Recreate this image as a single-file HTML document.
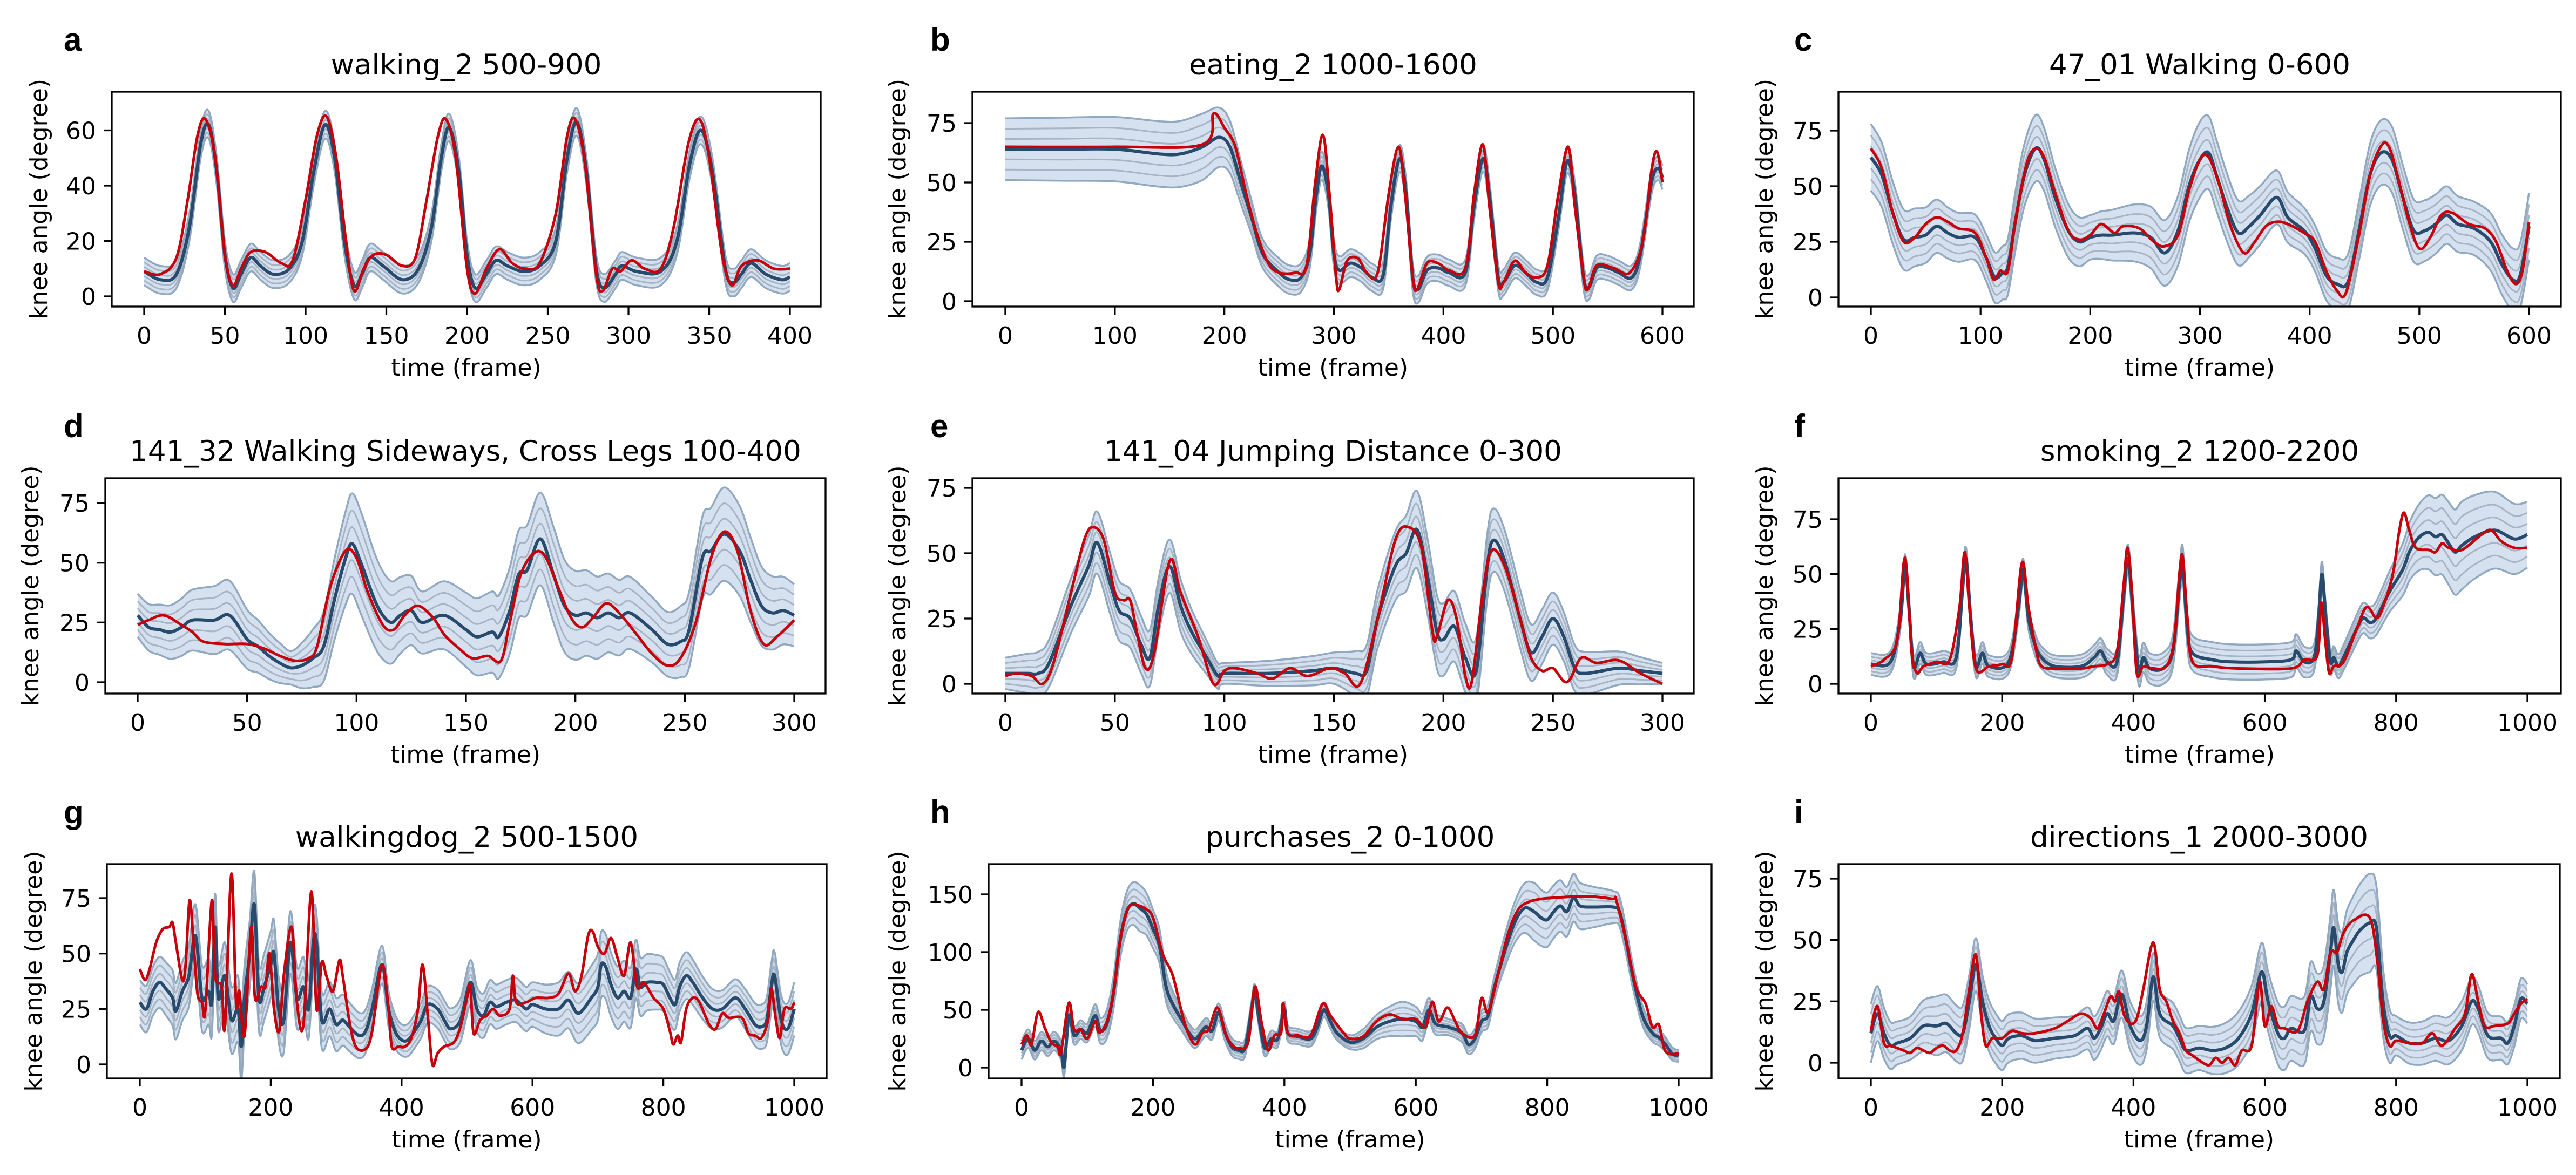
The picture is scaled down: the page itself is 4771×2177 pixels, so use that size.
<!DOCTYPE html>
<html><head><meta charset="utf-8"><style>
html,body{margin:0;padding:0;background:#fff}
svg{display:block}
text{font-family:"DejaVu Sans","Liberation Sans",sans-serif;fill:#000}
.lt{font-family:"Liberation Sans",sans-serif;font-weight:bold}
</style></head><body>
<svg id="fig" xmlns="http://www.w3.org/2000/svg" width="4771" height="2177" viewBox="0 0 4771 2177"></svg>
<script>
// ---- data: [frame, knee angle] ----
const aMean=[[0,9],[10,6],[20,8],[28,25],[35,55],[40,62],[45,45],[50,15],[55,3],[60,8],[66,14],[72,11],[80,8],[90,10],[98,20],[105,45],[112,62],[118,50],[124,20],[130,4],[135,8],[140,14],[148,11],[160,6],[170,10],[178,25],[184,50],[189,61],[195,45],[200,15],[205,3],[212,8],[218,13],[225,11],[235,9],[245,11],[255,20],[262,50],[268,63],[274,45],[280,10],[285,3],[292,8],[296,11],[305,9],[320,9],[330,20],[338,48],[345,60],[352,45],[360,10],[365,5],[370,8],[376,12],[385,8],[395,6],[400,7]];
const aRed=[[0,9],[10,8],[20,14],[27,35],[33,58],[38,64],[44,50],[50,15],[55,4],[60,10],[66,16],[75,16],[85,12],[92,13],[100,35],[107,58],[113,65],[119,50],[125,20],[130,2],[136,10],[142,15],[150,15],[160,11],[168,14],[175,35],[182,58],[187,64],[193,50],[200,10],[205,1],[212,10],[220,17],[228,12],[236,10],[245,12],[255,30],[262,58],[267,64],[273,48],[280,8],[284,2],[290,10],[295,9],[302,13],[310,10],[320,10],[328,25],[337,55],[344,64],[350,50],[358,15],[364,4],[370,11],[380,13],[390,10],[400,10]];
const aSpread=[[0,5],[100,5],[200,5],[300,5],[400,5]];

const bMean=[[0,64],[50,64],[100,64],[140,62],[160,62],[180,65],[195,69],[205,65],[215,50],[225,35],[235,20],[250,12],[260,9],[270,10],[278,20],[284,45],[289,57],[295,45],[300,20],[305,13],[315,16],[325,14],[335,10],[345,11],[352,40],[360,60],[366,45],[372,10],[377,5],[385,13],[395,14],[405,12],[420,12],[428,40],[436,60],[442,45],[450,10],[455,8],[465,15],[475,12],[485,8],[495,10],[505,35],[513,59],[520,45],[528,10],[533,6],[540,14],[550,14],[560,12],[572,10],[580,20],[590,50],[596,56],[600,52]];
const bRed=[[0,65],[100,65],[180,66],[190,79],[200,73],[210,65],[220,45],[230,28],[240,16],[250,12],[265,12],[275,15],[283,50],[290,70],[296,45],[302,10],[305,5],[312,17],[322,18],[330,12],[340,12],[350,45],[359,65],[365,45],[372,10],[376,5],[385,16],[395,16],[405,13],[420,14],[428,45],[436,66],[442,40],[450,8],[455,8],[465,17],[475,12],[485,10],[495,15],[505,45],[514,65],[520,40],[528,10],[532,5],[540,15],[555,14],[570,12],[582,25],[590,55],[595,63],[600,50]];
const bSpread=[[0,13],[180,14],[200,12],[230,6],[260,6],[600,5]];

const cMean=[[0,63],[10,55],[20,38],[30,26],[40,27],[50,28],[60,32],[70,29],[80,27],[95,27],[105,18],[113,9],[120,11],[125,14],[132,35],[140,55],[150,67],[158,62],[168,45],[180,30],[190,25],[200,27],[210,28],[220,28],[240,29],[255,27],[268,20],[280,30],[290,50],[300,62],[308,65],[315,55],[325,40],[335,29],[345,32],[355,37],[370,45],[380,36],[395,30],[405,22],[415,10],[425,6],[435,7],[445,30],[455,55],[465,65],[475,62],[485,45],[495,30],[505,30],[515,33],[525,37],[535,33],[550,31],[565,25],[575,15],[585,8],[592,10],[600,32]];
const cRed=[[0,67],[10,58],[20,38],[30,25],[40,27],[50,33],[60,36],[70,34],[80,31],[95,29],[105,18],[112,8],[118,12],[125,12],[132,35],[142,60],[150,67],[158,63],[168,47],[180,30],[190,26],[200,28],[210,33],[222,29],[230,32],[245,31],[258,25],[268,23],[280,28],[290,48],[300,62],[308,63],[318,50],[328,32],[340,20],[350,25],[360,32],[370,34],[380,33],[395,29],[405,25],[415,12],[425,3],[433,2],[445,28],[455,55],[465,68],[472,68],[480,55],[490,35],[500,22],[510,27],[520,37],[530,38],[545,33],[560,31],[570,25],[580,12],[588,6],[594,12],[600,34]];
const cSpread=[[0,15],[100,10],[150,15],[200,10],[300,17],[400,10],[470,15],[550,12],[600,15]];

const dMean=[[0,28],[5,23],[10,22],[15,21],[20,23],[25,26],[35,26],[42,28],[50,18],[55,15],[60,11],[65,8],[70,6],[75,7],[80,10],[85,15],[90,35],[95,52],[98,58],[102,50],[108,35],[112,28],[116,25],[120,28],[125,30],[130,25],[140,28],[150,22],[155,19],[162,21],[165,19],[170,30],[174,45],[178,47],[184,60],[190,45],[195,32],[200,28],[205,29],[210,27],[215,29],[220,27],[225,29],[235,22],[242,16],[248,17],[252,22],[258,52],[262,55],[268,62],[275,55],[280,43],[285,32],[290,29],[295,30],[300,28]];
const dRed=[[0,24],[5,26],[12,28],[20,24],[25,21],[30,17],[40,16],[50,16],[58,14],[65,11],[72,9],[78,10],[82,15],[88,40],[95,55],[100,52],[105,38],[112,24],[117,22],[122,28],[128,32],[135,27],[140,20],[147,14],[153,10],[160,11],[166,9],[170,25],[175,45],[181,54],[186,53],[192,40],[198,27],[203,23],[208,27],[214,33],[220,29],[228,20],[235,12],[242,7],[248,10],[255,25],[262,52],[268,63],[274,55],[280,30],[286,16],[292,19],[300,26]];
const dSpread=[[0,9],[40,15],[70,7],[100,22],[130,13],[170,18],[190,20],[240,13],[270,20],[300,13]];

const eMean=[[0,4],[10,4],[15,4],[20,8],[30,30],[38,45],[42,54],[48,38],[52,28],[57,25],[62,15],[66,10],[70,30],[75,45],[80,30],[85,20],[92,10],[97,3],[100,4],[120,4],[140,5],[150,6],[160,4],[165,5],[170,25],[178,45],[183,50],[188,59],[193,40],[197,20],[200,17],[205,22],[210,10],[215,5],[220,45],[223,55],[228,47],[235,25],[240,12],[245,18],[250,25],[255,18],[260,6],[265,4],[280,6],[290,5],[300,4]];
const eRed=[[0,3],[5,4],[12,3],[17,0],[22,8],[30,35],[36,55],[40,60],[45,55],[50,35],[54,32],[57,32],[60,20],[64,6],[68,12],[75,47],[80,35],[88,18],[95,0],[100,5],[105,6],[115,4],[122,2],[130,6],[138,3],[148,6],[155,4],[162,0],[170,25],[178,55],[184,60],[190,52],[195,20],[197,18],[202,32],[206,25],[210,3],[213,1],[218,35],[222,51],[228,45],[235,25],[240,10],[245,5],[250,6],[255,1],[258,2],[263,10],[270,8],[280,9],[290,4],[300,0]];
const eSpread=[[0,6],[40,12],[80,10],[100,4],[150,6],[185,15],[225,12],[250,10],[300,4]];

const fMean=[[0,9],[30,10],[45,30],[52,54],[58,35],[65,8],[75,14],[85,9],[110,10],[130,12],[140,45],[145,57],[152,30],[160,8],[170,14],[180,8],[210,10],[225,35],[232,52],[240,30],[250,18],[260,12],[280,8],[320,8],[340,12],[350,15],[360,10],[375,10],[385,40],[392,57],[400,30],[408,6],[415,12],[425,7],[445,7],[460,15],[470,45],[475,55],[482,25],[490,14],[520,11],[550,10],[600,10],[640,11],[648,15],[660,10],[675,12],[682,30],[687,50],[693,30],[700,10],[705,12],[712,8],[720,12],[740,25],[750,30],[760,28],[770,30],[790,42],[810,52],[820,60],[830,65],[840,68],[850,69],[860,67],[870,68],[880,64],[890,60],[900,63],[920,67],[950,70],[980,66],[1000,68]];
const fRed=[[0,8],[20,11],[40,20],[50,55],[55,50],[62,15],[70,5],[80,8],[100,10],[120,11],[135,35],[143,60],[150,35],[160,7],[180,8],[200,9],[215,12],[230,55],[240,35],[252,15],[260,8],[280,7],[320,7],[340,8],[360,9],[375,15],[385,45],[391,62],[398,40],[405,5],[415,8],[430,7],[450,8],[462,20],[470,50],[475,58],[482,30],[490,10],[520,8],[560,7],[640,7],[660,11],[680,13],[686,37],[692,20],[698,5],[705,8],[720,10],[740,25],[755,35],[770,30],[780,35],[795,50],[805,70],[812,78],[820,70],[830,62],[850,61],[860,60],[870,64],[880,62],[900,61],[930,68],[945,70],[960,65],[980,62],[1000,62]];
const fSpread=[[0,5],[300,5],[500,8],[640,8],[700,5],[780,8],[850,17],[900,20],[1000,15]];

const gMean=[[0,28],[10,25],[20,33],[30,37],[40,34],[50,30],[55,24],[65,33],[75,40],[85,58],[95,30],[105,33],[110,28],[115,62],[120,30],[130,40],[140,20],[150,25],[155,8],[160,30],[168,50],[175,72],[182,30],[190,35],[200,45],[205,50],[212,25],[220,20],[230,55],[240,30],[250,35],[258,25],[265,55],[270,55],[278,20],[290,25],[300,18],[310,20],[320,17],[335,13],[345,15],[355,25],[370,45],[380,25],[390,15],[400,11],[410,11],[420,15],[430,20],[440,27],[455,25],[465,20],[475,16],[490,20],[505,37],[515,25],[525,22],[535,28],[545,26],[560,28],[575,29],[590,25],[600,27],[620,25],[640,25],[655,29],[670,23],[690,30],[700,35],[705,45],[712,44],[720,36],[730,30],[740,33],[750,30],[758,43],[765,35],[775,37],[790,37],[800,36],[810,30],[818,27],[825,35],[835,40],[845,37],[860,30],[875,25],[890,25],[910,30],[925,25],[940,18],[950,17],[958,20],[965,35],[970,40],[980,20],[990,16],[1000,25]];
const gRed=[[0,43],[8,38],[15,43],[25,55],[35,61],[45,62],[50,64],[55,55],[65,38],[70,45],[76,74],[82,55],[88,32],[95,28],[100,24],[110,74],[115,40],[125,35],[130,17],[140,86],[147,28],[152,33],[160,13],[170,62],[176,30],[185,35],[192,35],[198,50],[205,25],[213,15],[220,40],[232,62],[240,28],[250,18],[262,78],[270,25],[278,46],[285,40],[295,33],[305,47],[310,40],[320,20],[330,8],[345,7],[355,15],[370,45],[380,25],[385,8],[395,8],[405,8],[415,12],[425,25],[432,45],[440,22],[447,0],[455,5],[465,8],[480,10],[490,17],[500,30],[505,35],[510,14],[520,20],[530,22],[540,25],[550,22],[565,25],[570,40],[575,28],[590,28],[605,30],[625,30],[640,32],[655,41],[665,33],[675,40],[685,58],[692,60],[700,53],[710,50],[720,57],[730,48],[740,40],[750,55],[760,35],[770,37],[785,30],[800,25],[810,15],[815,9],[822,13],[827,10],[835,25],[845,30],[855,28],[870,18],[880,16],[890,23],[900,21],[920,21],[930,14],[940,13],[950,12],[960,20],[965,34],[972,20],[978,12],[985,25],[995,25],[1000,28]];
const gSpread=[[0,10],[100,15],[200,15],[300,12],[400,7],[500,10],[600,10],[700,15],[800,12],[900,8],[1000,12]];

const hMean=[[0,15],[10,25],[20,15],[30,23],[40,18],[50,23],[60,15],[65,1],[72,45],[80,28],[90,33],[100,30],[112,45],[120,32],[130,38],[140,65],[150,110],[160,135],[170,142],[180,138],[190,133],[200,120],[210,105],[220,70],[230,55],[245,40],[255,30],[265,25],[280,35],[290,32],[300,48],[310,30],[320,18],[330,15],[340,17],[350,50],[355,65],[362,40],[370,17],[380,25],[390,25],[400,50],[405,30],[420,27],[440,25],[450,35],[460,50],[470,40],[480,30],[500,22],[520,25],[540,35],[560,40],[580,42],[600,40],[610,35],[620,50],[630,38],[650,35],[670,30],[680,20],[690,25],[700,40],[710,45],[720,70],[735,100],[750,125],[765,138],[780,135],[790,130],[800,128],[810,135],[820,140],[830,135],[840,147],[850,140],[870,139],[900,139],[910,135],[920,110],[930,80],[945,45],[960,30],[970,26],[980,20],[990,12],[1000,10]];
const hRed=[[0,20],[8,28],[15,20],[25,48],[35,35],[45,22],[55,18],[60,13],[72,56],[80,33],[90,33],[100,25],[112,40],[118,30],[130,40],[140,65],[150,110],[160,135],[168,141],[180,140],[190,137],[200,130],[215,98],[230,80],[245,45],[255,28],[265,20],[275,30],[285,33],[298,52],[310,30],[320,20],[330,17],[345,22],[355,70],[365,40],[375,15],[385,28],[395,30],[398,56],[405,30],[420,28],[440,28],[458,55],[470,45],[490,30],[500,25],[520,27],[540,40],[560,46],[580,42],[600,42],[615,35],[625,57],[635,40],[648,52],[660,40],[670,30],[690,28],[700,60],[710,48],[725,80],[740,115],[755,136],[770,143],[790,146],[810,147],[840,148],[870,148],[900,146],[905,145],[920,110],[935,70],[950,55],[960,35],[970,37],[980,14],[1000,12]];
const hSpread=[[0,8],[100,8],[180,20],[250,8],[500,6],[580,15],[650,7],[720,10],[780,25],[850,20],[950,8],[1000,5]];

const iMean=[[0,12],[10,20],[20,12],[30,7],[40,8],[60,10],[80,15],[100,15],[115,16],[130,12],[140,12],[150,25],[160,40],[170,25],[180,15],[190,10],[200,7],[210,10],[230,11],[250,9],[280,10],[310,11],[330,14],[340,10],[350,14],[360,20],[370,17],[382,28],[395,15],[410,9],[420,15],[430,35],[440,20],[460,15],[470,10],[480,5],[500,6],[520,5],[540,6],[560,10],[580,20],[595,37],[605,25],[620,12],[630,10],[640,14],[660,13],[670,27],[680,22],[690,25],[700,45],[705,55],[712,40],[718,37],[725,45],[735,50],[745,54],[760,57],[770,55],[780,25],[790,11],[800,11],[820,8],[840,8],[860,10],[880,9],[900,15],[915,25],[925,22],[940,11],[960,10],[970,8],[980,15],[990,26],[1000,24]];
const iRed=[[0,13],[10,23],[20,8],[30,7],[40,6],[50,5],[60,4],[70,6],[80,5],[90,4],[100,6],[110,7],[120,5],[130,5],[140,12],[150,30],[160,44],[168,20],[175,7],[185,10],[200,10],[215,13],[230,12],[250,12],[280,14],[300,17],[320,20],[335,18],[345,14],[355,20],[365,27],[372,25],[378,29],[385,20],[395,16],[405,18],[415,30],[430,49],[440,30],[450,25],[460,17],[470,12],[480,5],[490,3],[500,1],[515,-1],[525,2],[535,0],[545,2],[555,-1],[565,5],[580,7],[592,33],[600,15],[610,23],[620,15],[630,14],[650,13],[665,25],[680,33],[690,30],[700,45],[710,45],[720,53],[735,58],[760,59],[772,40],[780,18],[790,7],[800,9],[820,8],[840,8],[855,12],[870,7],[890,14],[905,20],[915,36],[925,25],[935,15],[950,15],[970,16],[980,20],[990,24],[1000,26]];
const iSpread=[[0,12],[50,8],[100,12],[200,10],[300,8],[400,10],[500,9],[600,12],[700,15],[760,20],[800,8],[900,10],[1000,8]];

const xTicksA=[0,50,100,150,200,250,300,350,400];
const xTicks600=[0,100,200,300,400,500,600];
const xTicks300=[0,50,100,150,200,250,300];
const xTicks1000=[0,200,400,600,800,1000];
const yTicks60=[0,20,40,60];
const yTicks75=[0,25,50,75];
const yTicks150=[0,50,100,150];

const panels=[
 {id:'a',title:'walking_2 500-900',mean:aMean,red:aRed,spread:aSpread,xt:xTicksA,yt:yTicks60,L:207,R:1520,T:170,B:568,xa:[0,267],xb:[400,1463],ya:[0,549],yb:[60,241.5],yl:72,lx:118},
 {id:'b',title:'eating_2 1000-1600',mean:bMean,red:bRed,spread:bSpread,xt:xTicks600,yt:yTicks75,L:1801,R:3137,T:170,B:568,xa:[0,1862],xb:[600,3079],ya:[0,558],yb:[75,228],yl:1662,lx:1723},
 {id:'c',title:'47_01 Walking 0-600',mean:cMean,red:cRed,spread:cSpread,xt:xTicks600,yt:yTicks75,L:3405,R:4743,T:170,B:568,xa:[0,3465],xb:[600,4684],ya:[0,551],yb:[75,242],yl:3268,lx:3323},
 {id:'d',title:'141_32 Walking Sideways, Cross Legs 100-400',mean:dMean,red:dRed,spread:dSpread,xt:xTicks300,yt:yTicks75,L:195,R:1529,T:886,B:1285,xa:[0,255],xb:[300,1471],ya:[0,1264],yb:[75,932],yl:56,lx:118},
 {id:'e',title:'141_04 Jumping Distance 0-300',mean:eMean,red:eRed,spread:eSpread,xt:xTicks300,yt:yTicks75,L:1801,R:3137,T:886,B:1285,xa:[0,1862],xb:[300,3079],ya:[0,1267],yb:[75,904],yl:1662,lx:1723},
 {id:'f',title:'smoking_2 1200-2200',mean:fMean,red:fRed,spread:fSpread,xt:xTicks1000,yt:yTicks75,L:3405,R:4743,T:886,B:1285,xa:[0,3465],xb:[1000,4681],ya:[0,1267],yb:[75,962],yl:3268,lx:3323},
 {id:'g',title:'walkingdog_2 500-1500',mean:gMean,red:gRed,spread:gSpread,xt:xTicks1000,yt:yTicks75,L:198,R:1531,T:1601,B:1998,xa:[0,259],xb:[1000,1471],ya:[0,1972],yb:[75,1664],yl:62,lx:118},
 {id:'h',title:'purchases_2 0-1000',mean:hMean,red:hRed,spread:hSpread,xt:xTicks1000,yt:yTicks150,L:1831,R:3170,T:1601,B:1998,xa:[0,1892],xb:[1000,3109],ya:[0,1978],yb:[150,1657],yl:1662,lx:1723},
 {id:'i',title:'directions_1 2000-3000',mean:iMean,red:iRed,spread:iSpread,xt:xTicks1000,yt:yTicks75,L:3405,R:4741,T:1601,B:1998,xa:[0,3465],xb:[1000,4681],ya:[0,1969],yb:[75,1628],yl:3268,lx:3323}
];

const NS='http://www.w3.org/2000/svg';
const svg=document.getElementById('fig');
function mk(tag,attrs,parent){const e=document.createElementNS(NS,tag);for(const k in attrs)e.setAttribute(k,attrs[k]);(parent||svg).appendChild(e);return e;}
function interp(arr,x){if(x<=arr[0][0])return arr[0][1];for(let i=1;i<arr.length;i++){if(x<=arr[i][0]){const t=(x-arr[i-1][0])/(arr[i][0]-arr[i-1][0]);return arr[i-1][1]+t*(arr[i][1]-arr[i-1][1]);}}return arr[arr.length-1][1];}
function smooth(pts){let d='M'+pts[0][0].toFixed(1)+','+pts[0][1].toFixed(1);for(let i=0;i<pts.length-1;i++){const p0=pts[i-1]||pts[i],p1=pts[i],p2=pts[i+1],p3=pts[i+2]||p2;const c1x=p1[0]+(p2[0]-p0[0])/6,c1y=p1[1]+(p2[1]-p0[1])/6,c2x=p2[0]-(p3[0]-p1[0])/6,c2y=p2[1]-(p3[1]-p1[1])/6;d+='C'+c1x.toFixed(1)+','+c1y.toFixed(1)+' '+c2x.toFixed(1)+','+c2y.toFixed(1)+' '+p2[0].toFixed(1)+','+p2[1].toFixed(1);}return d;}
function smoothCont(pts){return smooth(pts).slice(1).replace(/^[^C]*/,'');}

panels.forEach(p=>{
  const sx=v=>p.xa[1]+(v-p.xa[0])*(p.xb[1]-p.xa[1])/(p.xb[0]-p.xa[0]);
  const sy=v=>p.ya[1]+(v-p.ya[0])*(p.yb[1]-p.ya[1])/(p.yb[0]-p.ya[0]);
  const g=mk('g',{});
  
  
  const clip=mk('clipPath',{id:'clip-'+p.id},g);
  mk('rect',{x:p.L,y:p.T,width:p.R-p.L,height:p.B-p.T},clip);
  const plot=mk('g',{'clip-path':'url(#clip-'+p.id+')'},g);
  
  
  // band
  const up=p.mean.map(q=>[sx(q[0]),sy(q[1]+interp(p.spread,q[0]))]);
  const lo=p.mean.map(q=>[sx(q[0]),sy(q[1]-interp(p.spread,q[0]))]).reverse();
  const lu=smooth(up);const ll=smooth(lo);
  const band=mk('path',{d:lu+'L'+ll.slice(1)+'Z',fill:'#d5e1ef',stroke:'none'},plot);
  
  
  [-0.66,-0.33,0.33,0.66].forEach(k=>{
    const ln=mk('path',{d:smooth(p.mean.map(q=>[sx(q[0]),sy(q[1]+k*interp(p.spread,q[0]))])),fill:'none',stroke:'#a7b4c4',"stroke-width":3},plot);
    
    
  });
  [1,-1].forEach(k=>{
    const ln=mk('path',{d:smooth(p.mean.map(q=>[sx(q[0]),sy(q[1]+k*interp(p.spread,q[0]))])),fill:'none',stroke:'#91a8c1',"stroke-width":3.5},plot);
    
    
  });
  const ml=mk('path',{d:smooth(p.mean.map(q=>[sx(q[0]),sy(q[1])])),fill:'none',stroke:'#284a6c',"stroke-width":6,"stroke-linejoin":"round"},plot);
  
  
  const rl=mk('path',{d:smooth(p.red.map(q=>[sx(q[0]),sy(q[1])])),fill:'none',stroke:'#c8000a',"stroke-width":5,"stroke-linejoin":"round"},plot);
  
  
  // axes frame
  const fr=mk('rect',{x:p.L,y:p.T,width:p.R-p.L,height:p.B-p.T,fill:'none',stroke:'#000',"stroke-width":3.3},g);
  
  
  p.xt.forEach(v=>{
    const x=sx(v);
    const t=mk('line',{x1:x,x2:x,y1:p.B,y2:p.B+15,stroke:'#000',"stroke-width":3.3},g);
    
    
    const tx=mk('text',{x:x,y:p.B+69,"text-anchor":"middle","font-size":44},g);
    
    
    tx.textContent=v;
  });
  p.yt.forEach(v=>{
    const y=sy(v);
    const t=mk('line',{x1:p.L-15,x2:p.L,y1:y,y2:y,stroke:'#000',"stroke-width":3.3},g);
    
    
    const tx=mk('text',{x:p.L-29,y:y+16,"text-anchor":"end","font-size":44},g);
    
    
    tx.textContent=v;
  });
  const xl=mk('text',{x:(p.L+p.R)/2,y:p.B+128,"text-anchor":"middle","font-size":44},g);
  
  
  xl.textContent='time (frame)';
  const cy=(p.T+p.B)/2;
  const yl=mk('text',{x:p.yl+15,y:cy,"text-anchor":"middle","font-size":44,transform:'rotate(-90 '+(p.yl+15)+' '+cy+')'},g);
  
  
  yl.textContent='knee angle (degree)';
  const tt=mk('text',{x:(p.L+p.R)/2,y:p.T-32,"text-anchor":"middle","font-size":53},g);
  
  
  tt.textContent=p.title;
  const lt=mk('text',{x:p.lx,y:p.T-76,"font-size":60,class:'lt'},g);
  
  
  lt.textContent=p.id;
});
</script>
</body></html>
